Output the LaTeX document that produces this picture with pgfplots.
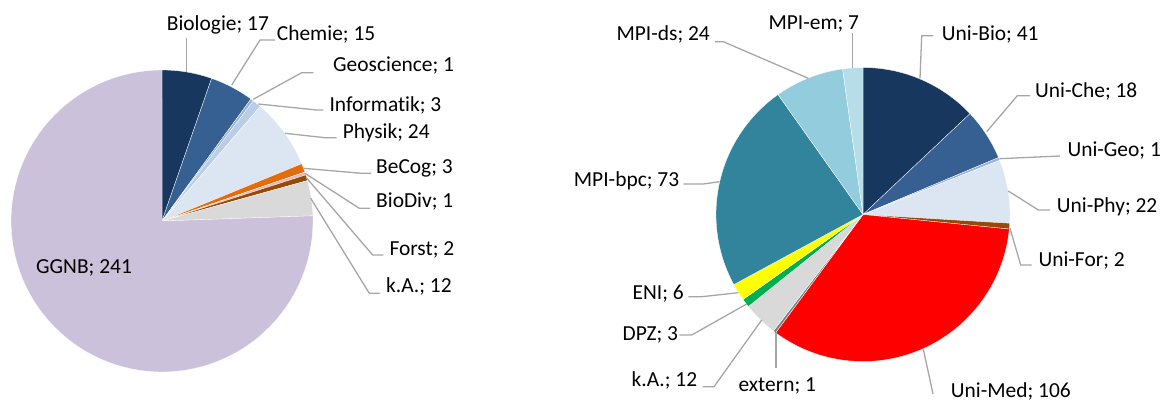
\documentclass[border=0pt]{standalone}
\usepackage{pgfplots}
\usepackage{pgfplotstable}
\pgfplotsset{compat=1.18}
\usepackage{fontspec}
\setmainfont{Carlito}[Ligatures=NoCommon]

\definecolor{cNavy}{HTML}{17375E}
\definecolor{cBlue}{HTML}{376092}
\definecolor{cGeo}{HTML}{95B3D7}
\definecolor{cInf}{HTML}{B9CDE5}
\definecolor{cPhy}{HTML}{DCE6F2}
\definecolor{cOrange}{HTML}{E46C0A}
\definecolor{cPink}{HTML}{E6B9B8}
\definecolor{cBrown}{HTML}{984807}
\definecolor{cGray}{HTML}{D9D9D9}
\definecolor{cLav}{HTML}{CCC1DA}
\definecolor{cRed}{HTML}{FF0000}
\definecolor{cExt}{HTML}{808080}
\definecolor{cGreen}{HTML}{00B050}
\definecolor{cYellow}{HTML}{FFFF00}
\definecolor{cTeal}{HTML}{31849B}
\definecolor{cCyan}{HTML}{93CDDD}
\definecolor{cPale}{HTML}{B7DEE8}
\definecolor{cLead}{HTML}{A6A6A6}

\pgfplotstableread{
name value color
Biologie 17 cNavy
Chemie 15 cBlue
Geoscience 1 cGeo
Informatik 3 cInf
Physik 24 cPhy
BeCog 3 cOrange
BioDiv 1 cPink
Forst 2 cBrown
k.A. 12 cGray
GGNB 241 cLav
}\leftdata

\pgfplotstableread{
name value color
Uni-Bio 41 cNavy
Uni-Che 18 cBlue
Uni-Geo 1 cGeo
Uni-Phy 22 cPhy
Uni-For 2 cBrown
Uni-Med 106 cRed
extern 1 cExt
k.A. 12 cGray
DPZ 3 cGreen
ENI 6 cYellow
MPI-bpc 73 cTeal
MPI-ds 24 cCyan
MPI-em 7 cPale
}\rightdata

% #1 table, #2 cx, #3 cy, #4 r (image coordinates, y downwards)
\newcommand\drawpie[4]{%
  \pgfplotstablegetrowsof{#1}%
  \pgfmathtruncatemacro\nrows{\pgfplotsretval-1}%
  \def\tot{0}%
  \pgfplotsforeachungrouped \i in {0,...,\nrows}{%
    \pgfplotstablegetelem{\i}{value}\of{#1}%
    \pgfmathsetmacro\tot{\tot+\pgfplotsretval}%
  }%
  \def\cum{0}%
  \pgfplotsforeachungrouped \i in {0,...,\nrows}{%
    \pgfplotstablegetelem{\i}{value}\of{#1}\let\val\pgfplotsretval
    \pgfplotstablegetelem{\i}{color}\of{#1}\let\col\pgfplotsretval
    \pgfmathsetmacro\angA{\cum/\tot*360}%
    \pgfmathsetmacro\cum{\cum+\val}%
    \pgfmathsetmacro\angB{\cum/\tot*360}%
    \edef\temp{\noexpand\addplot[fill=\col, draw=white, line width=0.3pt,
      domain=\angA:\angB, samples=90, variable=\noexpand\t]
      ({#2+#4*sin(\noexpand\t)},{#3-#4*cos(\noexpand\t)}) -- (axis cs:#2,#3) -- cycle;}%
    \temp
  }%
}

\begin{document}
\begin{tikzpicture}
\begin{axis}[
  width=1166bp, height=403bp, scale only axis,
  xmin=0, xmax=1166, ymin=0, ymax=403, y dir=reverse,
  axis lines=none, clip=false,
]
\drawpie{\leftdata}{162}{221}{151}
\drawpie{\rightdata}{863}{214.5}{147}

% leader lines
\begin{scope}[cLead, line width=1.3pt]
\draw (axis cs:186.7,37.7) -- (axis cs:186.7,71.7);
\draw (axis cs:275,40) -- (axis cs:260,40) -- (axis cs:231.7,85);
\draw (axis cs:313.3,72.7) -- (axis cs:301.7,72.7) -- (axis cs:253.3,99.3);
\draw (axis cs:323.3,110) -- (axis cs:316.7,110) -- (axis cs:258.3,104);
\draw (axis cs:336.7,137.7) -- (axis cs:325,137.7) -- (axis cs:285,133.3);
\draw (axis cs:371,173.3) -- (axis cs:361.7,173.3) -- (axis cs:303.3,168.3);
\draw (axis cs:370,208.3) -- (axis cs:359.3,208.3) -- (axis cs:305,173.3);
\draw (axis cs:383.3,255) -- (axis cs:372.7,255) -- (axis cs:306,177.3);
\draw (axis cs:380,293.3) -- (axis cs:369.3,293.3) -- (axis cs:310.7,198.3);

\draw (axis cs:852.7,33.3) -- (axis cs:852.7,68.3);
\draw (axis cs:715,41.7) -- (axis cs:723.3,41.7) -- (axis cs:808.3,78.3);
\draw (axis cs:933.3,35.7) -- (axis cs:921.7,35.7) -- (axis cs:920,78.3);
\draw (axis cs:1030,95.7) -- (axis cs:1017.3,95.7) -- (axis cs:986.7,131.7);
\draw (axis cs:1060,156) -- (axis cs:999.3,158.7);
\draw (axis cs:1050,210) -- (axis cs:1038.3,210) -- (axis cs:1008.3,191);
\draw (axis cs:1031.7,265) -- (axis cs:1020.7,265) -- (axis cs:1010,228.3);
\draw (axis cs:683.3,184) -- (axis cs:703.3,184) -- (axis cs:719.3,181.7);
\draw (axis cs:688.3,296.7) -- (axis cs:701.7,296.7) -- (axis cs:738.3,292.7);
\draw (axis cs:679.3,335) -- (axis cs:691.7,335) -- (axis cs:746.7,304);
\draw (axis cs:702.7,386.7) -- (axis cs:714,386.7) -- (axis cs:761.7,320);
\draw (axis cs:776,331.7) -- (axis cs:776,368.3);
\draw (axis cs:923.3,349.3) -- (axis cs:933,394);
\end{scope}

% labels
\begin{scope}[every node/.style={inner sep=0pt, font=\fontsize{21.5}{24}\selectfont, text=black}]
\node[anchor=base west] at (axis cs:166.7,31) {Biologie; 17};
\node[anchor=base west] at (axis cs:276.7,40.1) {Chemie; 15};
\node[anchor=base west] at (axis cs:333,71.8) {Geoscience; 1};
\node[anchor=base west] at (axis cs:329.3,111) {Informatik; 3};
\node[anchor=base west] at (axis cs:342.7,138.5) {Physik; 24};
\node[anchor=base west] at (axis cs:376,173.5) {BeCog; 3};
\node[anchor=base west] at (axis cs:376,207.8) {BioDiv; 1};
\node[anchor=base west] at (axis cs:389.3,255) {Forst; 2};
\node[anchor=base west] at (axis cs:386,292.8) {k.A.; 12};
\node[anchor=base west] at (axis cs:36,273.5) {GGNB; 241};

\node[anchor=base west] at (axis cs:768.3,29.5) {MPI-em; 7};
\node[anchor=base east] at (axis cs:710,40) {MPI-ds; 24};
\node[anchor=base west] at (axis cs:941.7,40) {Uni-Bio; 41};
\node[anchor=base west] at (axis cs:1035,97.5) {Uni-Che; 18};
\node[anchor=base west] at (axis cs:1067.3,156.8) {Uni-Geo; 1};
\node[anchor=base west] at (axis cs:1056.7,212.5) {Uni-Phy; 22};
\node[anchor=base west] at (axis cs:1038.3,266) {Uni-For; 2};
\node[anchor=base east] at (axis cs:679.3,186) {MPI-bpc; 73};
\node[anchor=base east] at (axis cs:684,299.5) {ENI; 6};
\node[anchor=base east] at (axis cs:678.3,340) {DPZ; 3};
\node[anchor=base east] at (axis cs:697.3,386.8) {k.A.; 12};
\node[anchor=base west] at (axis cs:738.3,391.8) {extern; 1};
\node[anchor=base west] at (axis cs:950.7,397.5) {Uni-Med; 106};
\end{scope}
\end{axis}
\pgfresetboundingbox
\path[use as bounding box] (current axis.south west) rectangle (current axis.north east);
\end{tikzpicture}
\end{document}
